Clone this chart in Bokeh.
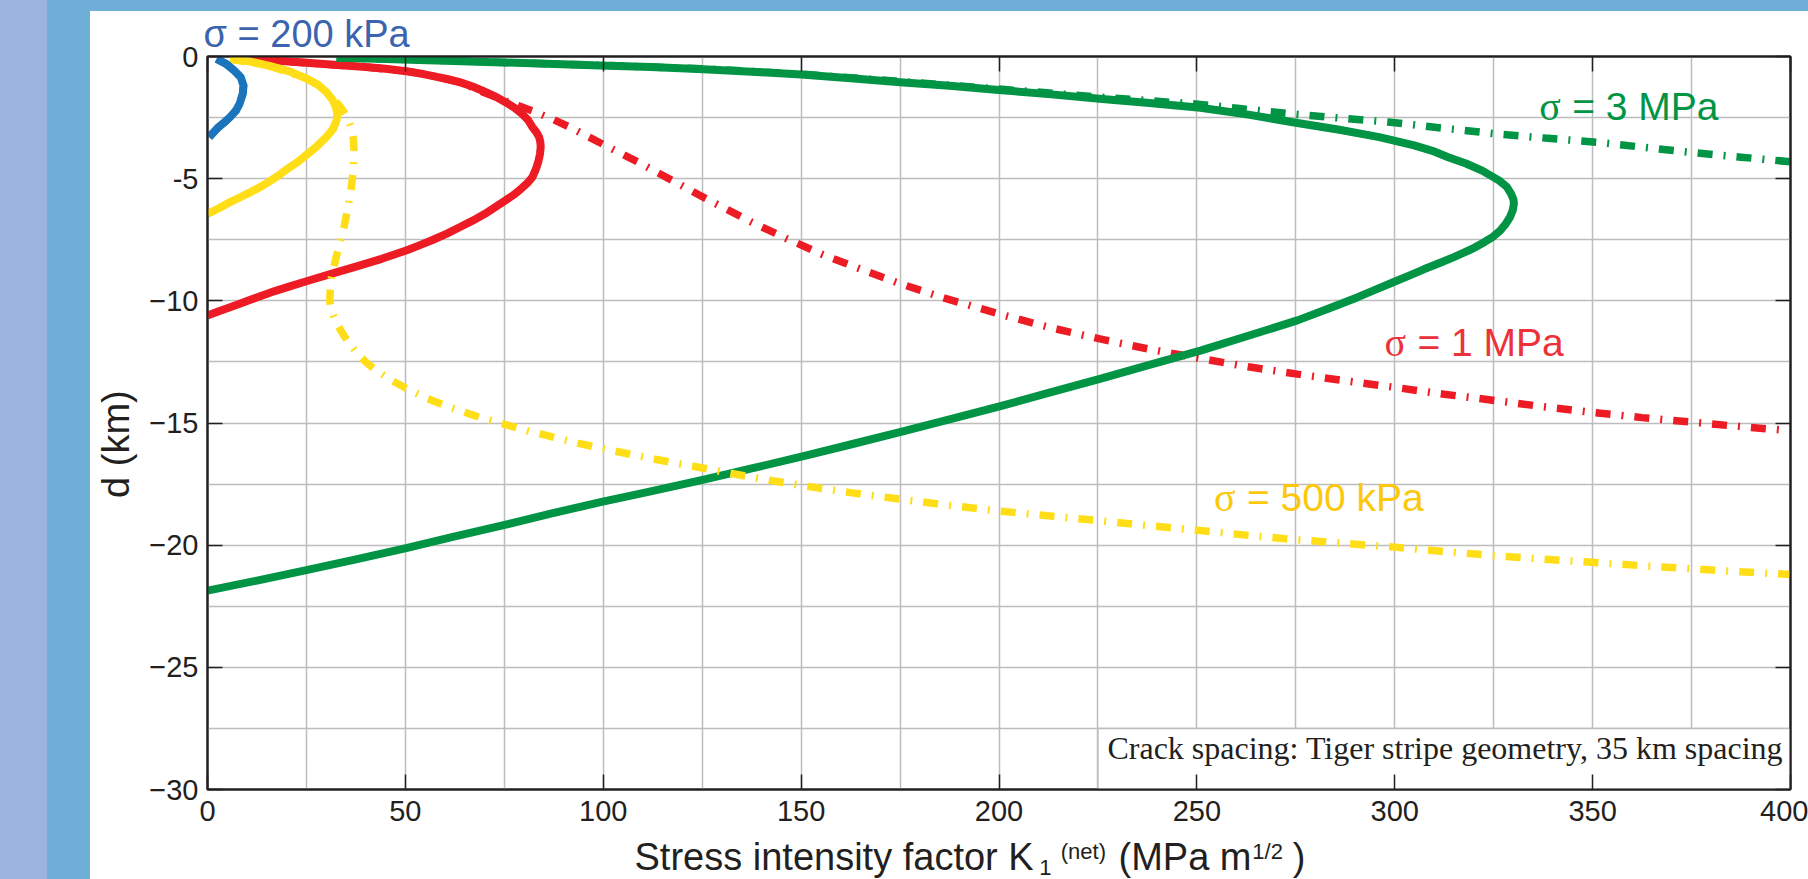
from bokeh.plotting import figure
from bokeh.models import Range1d, FixedTicker, LinearAxis, Label, Spacer
from bokeh.layouts import row, column
from bokeh.embed import file_html
from bokeh.resources import INLINE

# ---------------- data ----------------
# sigma = 200 kPa (blue)
blue_k = [2.3, 4.7, 6.7, 8.4, 9.1, 8.9, 8.1, 7.2, 5.7, 4.3, 2.8, 0.4]
blue_d = [-0.1, -0.3, -0.57, -0.85, -1.19, -1.53, -1.94, -2.21, -2.48, -2.69, -2.89, -3.3]

# sigma = 500 kPa (yellow)
yel_solid_k = [5.7, 10.5, 15.4, 20.5, 25.0, 28.0, 30.0, 31.5, 32.4, 32.8, 32.6, 31.8, 30.0,
               27.5, 25.0, 22.5, 20.0, 17.7, 15.4, 13.0, 10.5, 8.0, 5.7, 3.0, 0.0]
yel_solid_d = [-0.1, -0.2, -0.37, -0.6, -0.9, -1.17, -1.45, -1.75, -2.05, -2.35, -2.62, -2.95,
               -3.3, -3.7, -4.03, -4.35, -4.62, -4.9, -5.14, -5.37, -5.58, -5.78, -5.96, -6.2,
               -6.44]
yel_dash_k = [5.7, 15.4, 25.0, 28.0, 30.0, 31.8, 33.3, 34.4, 35.5, 36.4, 36.9, 37.0, 36.9,
              36.3, 35.6, 34.6, 33.4, 32.3, 31.3, 31.0, 30.9, 31.3, 32.3, 33.8, 35.6, 37.8,
              40.3, 42.9, 46.5, 50.2, 55.5, 60.8, 68.6, 74.3, 81.0, 87.9, 93.5, 99.3, 112.0,
              125.4, 137.5, 150.1, 162.5, 175.2, 187.5, 199.9, 212.5, 225.5, 238.0, 250.9,
              263.0, 275.4, 287.5, 299.9, 312.5, 325.3, 337.5, 349.8, 362.5, 375.3, 387.5,
              399.8]
yel_dash_d = [-0.1, -0.37, -0.9, -1.17, -1.45, -1.75, -2.0, -2.25, -2.55, -2.95, -3.4, -3.8,
              -4.6, -5.4, -6.1, -6.9, -7.65, -8.35, -9.05, -9.55, -10.0, -10.4, -10.8, -11.25,
              -11.7, -12.15, -12.55, -12.88, -13.25, -13.58, -14.0, -14.33, -14.76, -15.02,
              -15.32, -15.6, -15.82, -16.03, -16.45, -16.85, -17.22, -17.56, -17.85, -18.12,
              -18.37, -18.6, -18.8, -19.0, -19.2, -19.4, -19.6, -19.78, -19.93, -20.08, -20.26,
              -20.43, -20.57, -20.7, -20.84, -20.97, -21.09, -21.2]

# sigma = 1 MPa (red)
red_solid_k = [11.0, 18.0, 25.0, 32.0, 40.0, 45.0, 50.2, 54.0, 57.0, 60.5, 63.7, 66.8, 69.5,
               72.5, 75.3, 77.6, 79.5, 81.0, 82.1, 83.1, 83.8, 84.1, 84.2, 84.0, 83.6, 83.0,
               82.1, 80.7, 79.0, 77.3, 75.3, 72.8, 70.0, 67.0, 63.7, 60.5, 57.0, 53.7, 50.2,
               44.0, 37.5, 31.0, 25.0, 21.0, 17.0, 13.5, 10.5, 7.8, 5.0, 2.5, 0.0]
red_solid_d = [-0.1, -0.17, -0.26, -0.34, -0.43, -0.5, -0.6, -0.7, -0.8, -0.92, -1.05, -1.22,
               -1.4, -1.62, -1.87, -2.1, -2.35, -2.6, -2.89, -3.1, -3.3, -3.5, -3.7, -4.0,
               -4.3, -4.6, -4.94, -5.2, -5.45, -5.67, -5.89, -6.15, -6.45, -6.72, -6.99,
               -7.25, -7.5, -7.72, -7.94, -8.28, -8.6, -8.91, -9.2, -9.4, -9.6, -9.8, -9.98,
               -10.14, -10.3, -10.45, -10.6]
red_dash_k = [11.0, 25.0, 40.0, 50.2, 57.0, 63.7, 66.8, 69.5, 72.5, 75.5, 78.8, 82.3, 87.0,
              91.5, 99.3, 104.0, 108.9, 117.7, 126.1, 131.5, 137.5, 146.4, 155.1, 164.1, 174.0,
              186.0, 199.9, 212.0, 225.5, 238.0, 250.9, 263.0, 275.4, 287.5, 299.9, 312.5,
              325.3, 337.5, 349.8, 362.5, 375.3, 387.5, 399.8]
red_dash_d = [-0.1, -0.26, -0.43, -0.6, -0.8, -1.05, -1.25, -1.45, -1.64, -1.83, -2.03, -2.24,
              -2.55, -2.89, -3.54, -3.93, -4.33, -5.1, -5.83, -6.28, -6.78, -7.46, -8.08, -8.65,
              -9.24, -9.88, -10.53, -11.06, -11.56, -11.98, -12.36, -12.7, -13.0, -13.27,
              -13.54, -13.82, -14.08, -14.33, -14.56, -14.78, -14.97, -15.15, -15.31]

# sigma = 3 MPa (green)
grn_solid_k = [32.6, 45.0, 60.0, 80.0, 99.3, 112.0, 125.3, 137.5, 150.0, 162.5, 175.0, 187.5,
               199.9, 212.5, 225.4, 238.0, 250.9, 263.0, 275.4, 286.0, 296.1, 304.9, 309.5,
               313.5, 318.0, 322.1, 326.4, 328.3, 329.4, 330.0, 330.1, 329.8, 329.1, 328.0,
               326.6, 324.8, 322.6, 320.2, 317.6, 314.8, 311.5, 307.5, 303.5, 299.9, 295.0,
               290.5, 283.0, 275.4, 263.0, 250.9, 238.0, 225.5, 212.5, 199.9, 187.5, 175.2,
               162.5, 150.1, 137.5, 125.4, 112.0, 99.3, 87.0, 74.3, 62.0, 50.2, 37.5, 25.0,
               12.5, 0.0]
grn_solid_d = [-0.05, -0.1, -0.17, -0.27, -0.37, -0.43, -0.52, -0.62, -0.74, -0.89, -1.05,
               -1.2, -1.37, -1.54, -1.73, -1.9, -2.1, -2.38, -2.72, -3.0, -3.3, -3.64, -3.86,
               -4.12, -4.38, -4.67, -5.08, -5.33, -5.62, -5.85, -6.03, -6.3, -6.58, -6.86,
               -7.13, -7.38, -7.6, -7.82, -8.02, -8.22, -8.44, -8.7, -8.98, -9.22, -9.55,
               -9.86, -10.33, -10.8, -11.43, -12.04, -12.62, -13.19, -13.77, -14.33, -14.85,
               -15.36, -15.88, -16.38, -16.86, -17.32, -17.8, -18.24, -18.7, -19.2, -19.66,
               -20.12, -20.58, -21.02, -21.45, -21.86]
grn_dash_k = [32.6, 60.0, 99.3, 125.3, 150.0, 175.0, 199.9, 225.4, 250.9, 262.0, 275.4, 287.0,
              298.9, 312.0, 325.3, 338.0, 351.3, 363.0, 375.0, 387.5, 400.0]
grn_dash_d = [-0.05, -0.17, -0.36, -0.5, -0.72, -1.02, -1.33, -1.66, -1.96, -2.15, -2.37,
              -2.53, -2.69, -2.93, -3.16, -3.34, -3.51, -3.72, -3.93, -4.12, -4.31]

# ticks
x_ticks = [0, 50, 100, 150, 200, 250, 300, 350, 400]
x_tick_labels = ["0", "50", "100", "150", "200", "250", "300", "350", "400"]
y_ticks = [0, -5, -10, -15, -20, -25, -30]
y_tick_labels = ["0", "-5", "\u221210", "\u221215", "\u221220", "\u221225", "\u221230"]
x_grid = [0, 25, 50, 75, 100, 125, 150, 175, 200, 225, 250, 275, 300, 325, 350, 375, 400]
y_grid = [0, -2.5, -5, -7.5, -10, -12.5, -15, -17.5, -20, -22.5, -25, -27.5, -30]

y_label = "d (km)"
x_label_parts = ["Stress intensity factor K", "1", "(net)", "(MPa m", "1/2", ")"]
note_text = "Crack spacing: Tiger stripe geometry, 35 km spacing"
note_box_left, note_box_right, note_box_bottom, note_box_top = [225], [400], [-30], [-27.5]

# ---------------- styles / geometry ----------------
RED, GRN, YEL, BLU = "#ed1c24", "#009444", "#ffde17", "#1c75bc"
AX = "#231f20"
GRID = "#bdbdbd"
BAND = "#6eaed7"
SANS = "Liberation Sans"
SERIF = "Liberation Serif"
LW = 8
LWD = 7.5
DASHDOT = "15 11 2 11"
FIG_W = 1718
BL, BR = 117, 18
BAND_H, TOP_B, BOT_H = 11, 45, 45

xr = Range1d(0, 400)

# ---------------- main plot ----------------
p = figure(width=FIG_W, height=879 - BAND_H - BOT_H, x_range=xr, y_range=Range1d(-30, 0),
           output_backend="svg", toolbar_location=None, title="\u03c3 = 200 kPa",
           min_border_left=BL, min_border_right=BR, min_border_top=TOP_B,
           min_border_bottom=BOT_H,
           background_fill_color="white", border_fill_color="white",
           outline_line_color=AX, outline_line_width=2)
p.title.text_font = SANS
p.title.text_font_size = "38px"
p.title.text_font_style = "normal"
p.title.text_color = "#3c64ae"
p.title.align = "left"
p.title.vertical_align = "top"
p.title.offset = -4
p.title.standoff = 0

for ax in (p.xaxis[0], p.yaxis[0]):
    ax.major_tick_in = 15
    ax.major_tick_out = 0
    ax.minor_tick_in = 0
    ax.minor_tick_out = 0
    ax.axis_line_color = AX
    ax.axis_line_width = 2
    ax.major_tick_line_color = AX
    ax.major_tick_line_width = 1.5
    ax.major_label_text_font = SANS
    ax.major_label_text_font_size = "29px"
    ax.major_label_text_color = AX

p.xaxis.ticker = FixedTicker(ticks=x_ticks)
p.xaxis.major_label_overrides = dict(zip(x_ticks, x_tick_labels))
p.xaxis.major_label_standoff = 11
p.yaxis.ticker = FixedTicker(ticks=y_ticks)
p.yaxis.major_label_overrides = dict(zip(y_ticks, y_tick_labels))
p.yaxis.major_label_standoff = 9
# trailing no-break spaces push the centred label a little lower, as in the reference
p.yaxis.axis_label = y_label + "\u00a0\u00a0\u00a0\u00a0"
p.yaxis.axis_label_text_font = SANS
p.yaxis.axis_label_text_font_size = "38px"
p.yaxis.axis_label_text_font_style = "normal"
p.yaxis.axis_label_text_color = AX
p.yaxis.axis_label_standoff = 9

top_ax = LinearAxis(ticker=FixedTicker(ticks=x_ticks),
                    major_label_overrides={t: "" for t in x_ticks})
right_ax = LinearAxis(ticker=FixedTicker(ticks=y_ticks),
                      major_label_overrides={t: "" for t in y_ticks})
for ax in (top_ax, right_ax):
    ax.major_tick_in = 15
    ax.major_tick_out = 0
    ax.minor_tick_in = 0
    ax.minor_tick_out = 0
    ax.axis_line_color = AX
    ax.axis_line_width = 2
    ax.major_tick_line_color = AX
    ax.major_tick_line_width = 1.5
    ax.major_label_standoff = 0
    ax.major_label_text_font_size = "1px"
p.add_layout(top_ax, "above")
p.add_layout(right_ax, "right")

p.xgrid.ticker = FixedTicker(ticks=x_grid)
p.ygrid.ticker = FixedTicker(ticks=y_grid)
for g in (p.xgrid[0], p.ygrid[0]):
    g.grid_line_color = GRID
    g.grid_line_width = 1.5

# white note box hiding the grid
p.quad(left=note_box_left, right=note_box_right, bottom=note_box_bottom, top=note_box_top,
       fill_color="white", line_color=GRID, line_width=1.5)

# curves
p.line(red_dash_k, red_dash_d, line_color=RED, line_width=LWD, line_dash=DASHDOT, line_cap="butt")
p.line(red_solid_k, red_solid_d, line_color=RED, line_width=LW, line_join="round")
p.line(grn_dash_k, grn_dash_d, line_color=GRN, line_width=LWD, line_dash=DASHDOT, line_cap="butt")
p.line(grn_solid_k, grn_solid_d, line_color=GRN, line_width=LW, line_join="round")
p.line(yel_solid_k, yel_solid_d, line_color=YEL, line_width=LW, line_join="round")
p.line(yel_dash_k, yel_dash_d, line_color=YEL, line_width=LWD, line_dash=DASHDOT, line_cap="butt")
p.line(blue_k, blue_d, line_color=BLU, line_width=LWD, line_dash=DASHDOT, line_cap="butt")
p.line(blue_k, blue_d, line_color=BLU, line_width=LW, line_join="round")

# sigma labels inside the frame: (x, y, rest-of-text, colour); sigma itself in serif
sig_labels = [
    (336.5, -2.04, "= 3 MPa", "#009444"),
    (297.4, -11.70, "= 1 MPa", "#ec3238"),
    (254.3, -18.03, "= 500 kPa", "#fdc80a"),
]
for (lx, ly, txt, col) in sig_labels:
    p.add_layout(Label(x=lx, y=ly, text="\u03c3", text_font=SERIF, text_font_size="40px",
                       text_color=col, text_baseline="alphabetic", text_align="left"))
    p.add_layout(Label(x=lx, y=ly, x_offset=33, text=txt, text_font=SANS,
                       text_font_size="39px", text_color=col, text_baseline="alphabetic",
                       text_align="left"))

p.add_layout(Label(x=227.4, y=-28.31, text=note_text, text_font=SERIF, text_font_size="32px",
                   text_color=AX, text_baseline="alphabetic", text_align="left"))

# ---------------- bottom strip (x axis label with sub/superscripts) ----------------
bot = figure(width=FIG_W, height=BOT_H, x_range=xr, y_range=Range1d(-BOT_H, 0),
             output_backend="svg", toolbar_location=None,
             min_border_left=BL, min_border_right=BR, min_border_top=0, min_border_bottom=0,
             x_axis_type=None, y_axis_type=None, outline_line_color=None,
             background_fill_color="white", border_fill_color="white")
xlab_pos = [(107.9, -22.3, "38px"), (210.2, -32.5, "22px"), (215.6, -17.1, "22px"),
            (230.2, -22.3, "38px"), (264.0, -17.1, "22px"), (274.2, -22.3, "38px")]
for txt, (lx, ly, fs) in zip(x_label_parts, xlab_pos):
    bot.add_layout(Label(x=lx, y=ly, text=txt, text_font=SANS, text_font_size=fs,
                         text_color=AX, text_baseline="alphabetic", text_align="left"))

left1 = Spacer(width=47, height=879, styles={"background-color": "#9cb3de"})
left2 = Spacer(width=43, height=879, styles={"background-color": BAND})
topband = Spacer(width=FIG_W, height=BAND_H, styles={"background-color": BAND})
layout = row(left1, left2, column(topband, p, bot))

open("out.html", "w").write(file_html(layout, INLINE))
